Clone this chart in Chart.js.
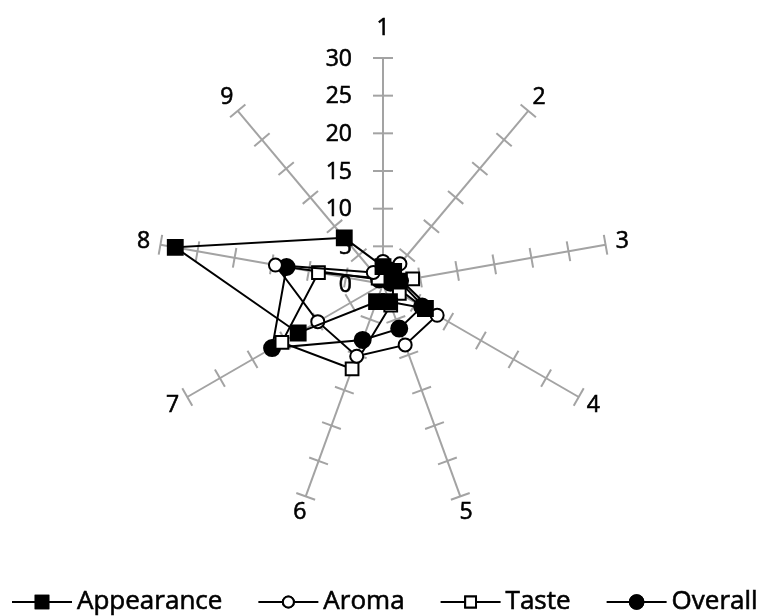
<!DOCTYPE html>
<html>
<head>
<meta charset="utf-8">
<script src="https://cdn.jsdelivr.net/npm/chart.js@4.4.1/dist/chart.umd.min.js"></script>
<style>
html,body{margin:0;padding:0;background:#fff;}
canvas{display:block;}
</style>
</head>
<body>
<canvas id="c" width="768" height="616"></canvas>
<script>
// ---- data ----
const categories = ['1','2','3','4','5','6','7','8','9'];
const appearance = [2.3, 2.2, 2.2, 6.5, 2.5, 2.5, 13, 28, 8];
const aroma      = [3, 3.5, 2.5, 8.3, 8.6, 10.2, 10, 14.5, 2];
const taste      = [2, 2, 4, 2.5, 3, 12, 15.5, 8.7, 1];
const overall    = [0.8, 0.8, 1, 6, 6.3, 7.9, 17, 13, 0.8];
const seriesNames = ['Appearance','Aroma','Taste','Overall'];
const scaleMin = 0, scaleMax = 30, scaleStep = 5;

const FONT = '"Open Sans", "DejaVu Sans", sans-serif';
const AXIS_COLOR = '#a3a3a3';

function ds(label, data, style, radius, fill) {
  return {
    label, data,
    borderColor: '#000', borderWidth: 2,
    pointStyle: style, pointRadius: radius, pointHoverRadius: radius,
    pointBackgroundColor: fill, pointBorderColor: '#000', pointBorderWidth: 2,
    fill: false, tension: 0
  };
}

function boldText(ctx, txt, x, y) {
  ctx.fillText(txt, x, y);
  ctx.strokeText(txt, x, y);
}

const axisDecor = {
  id: 'axisDecor',
  beforeDatasetsDraw(chart) {
    const s = chart.scales.r, ctx = chart.ctx;
    ctx.save();
    ctx.strokeStyle = AXIS_COLOR; ctx.lineWidth = 2;
    const n = chart.data.labels.length;
    for (let i = 0; i < n; i++) {
      s.ticks.forEach(t => {
        if (t.value <= scaleMin) return;
        const p = s.getPointPositionForValue(i, t.value);
        const px = -Math.sin(p.angle) * 10, py = Math.cos(p.angle) * 10;
        ctx.beginPath(); ctx.moveTo(p.x - px, p.y - py); ctx.lineTo(p.x + px, p.y + py); ctx.stroke();
      });
    }
    // tick labels on first axis, left side
    ctx.fillStyle = '#000'; ctx.strokeStyle = '#000'; ctx.lineWidth = 0.6;
    ctx.font = '23px ' + FONT;
    ctx.textAlign = 'right'; ctx.textBaseline = 'middle';
    s.ticks.forEach(t => {
      const p = s.getPointPositionForValue(0, t.value);
      boldText(ctx, String(t.value), p.x - 31, p.y + 1);
    });
    // point labels
    ctx.textAlign = 'center';
    for (let i = 0; i < n; i++) {
      const d = i === 0 ? 30 : 17;
      const p = s.getPointPosition(i, s.drawingArea + d);
      boldText(ctx, chart.data.labels[i], p.x, p.y);
    }
    ctx.restore();
  }
};

const legendDecor = {
  id: 'legendDecor',
  afterDraw(chart) {
    const ctx = chart.ctx;
    ctx.save();
    ctx.font = '26px ' + FONT;
    ctx.textBaseline = 'middle'; ctx.textAlign = 'left';
    let x = 12; const y = 602;
    chart.data.datasets.forEach(d => {
      ctx.strokeStyle = '#000'; ctx.lineWidth = 2;
      ctx.beginPath(); ctx.moveTo(x, y); ctx.lineTo(x + 60, y); ctx.stroke();
      Chart.helpers.drawPoint(ctx, {
        pointStyle: d.pointStyle, radius: d.pointRadius * 0.85, borderWidth: 2
      }, x + 30, y);
      ctx.fillStyle = d.pointBackgroundColor;
      ctx.fill();
      ctx.stroke();
      ctx.fillStyle = '#000'; ctx.lineWidth = 0.6;
      boldText(ctx, d.label, x + 65, y);
      x += 65 + ctx.measureText(d.label).width + 36;
    });
    ctx.restore();
  }
};

new Chart(document.getElementById('c'), {
  type: 'radar',
  data: {
    labels: categories,
    datasets: [
      ds(seriesNames[0], appearance, 'rect', 10.5, '#000'),
      ds(seriesNames[1], aroma, 'circle', 6.5, '#fff'),
      ds(seriesNames[2], taste, 'rect', 9, '#fff'),
      ds(seriesNames[3], overall, 'circle', 8, '#000')
    ]
  },
  options: {
    responsive: false, devicePixelRatio: 1, animation: false,
    layout: { padding: { left: 157, right: 159, top: 58, bottom: 106 } },
    plugins: { legend: { display: false }, tooltip: { enabled: false } },
    scales: {
      r: {
        min: scaleMin, max: scaleMax,
        ticks: { stepSize: scaleStep, display: false },
        grid: { display: false },
        angleLines: { display: true, color: AXIS_COLOR, lineWidth: 2 },
        pointLabels: { display: false }
      }
    }
  },
  plugins: [axisDecor, legendDecor]
});
</script>
</body>
</html>
